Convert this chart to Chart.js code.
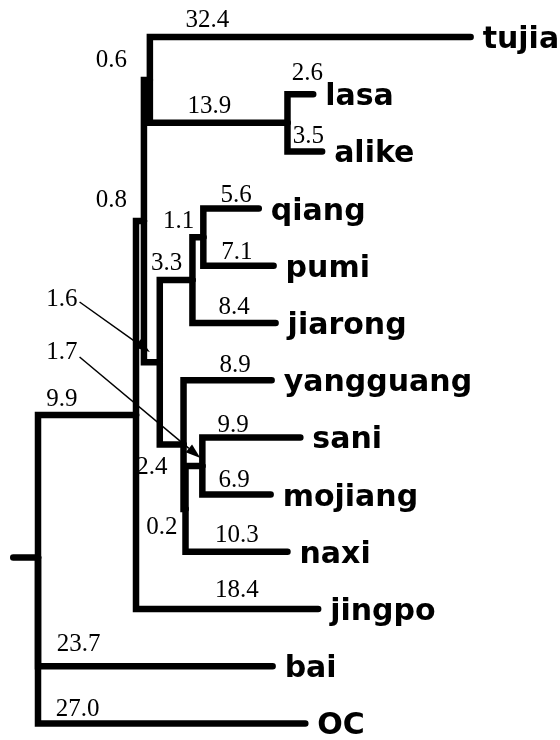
<!DOCTYPE html>
<html>
<head>
<meta charset="utf-8">
<script src="https://cdn.jsdelivr.net/npm/chart.js@4.4.1/dist/chart.umd.min.js"></script>
<style>
  html, body { margin: 0; padding: 0; background: #fff; }
  #tree { display: block; }
</style>
</head>
<body>
<canvas id="tree" width="560" height="740"></canvas>
<script>
// tree as node / parent / branch length (parents listed before children)
const nodeNames = ['root', 'A', 'bai', 'OC', 'B', 'jingpo', 'C', 'D', 'tujia', 'L', 'lasa', 'alike',
    'E', 'F', 'I', 'jiarong', 'qiang', 'pumi', 'yangguang', 'H', 'G', 'naxi', 'sani', 'mojiang'];
const parentNames = [null, 'root', 'root', 'root', 'A', 'A', 'B', 'B', 'C', 'C', 'L', 'L',
    'D', 'D', 'E', 'E', 'I', 'I', 'F', 'F', 'H', 'H', 'G', 'G'];
const branchLengths = [0, 9.9, 23.7, 27.0, 0.8, 18.4, 0.6, 1.6, 32.4, 13.9, 2.6, 3.5,
    3.3, 2.4, 1.1, 8.4, 5.6, 7.1, 8.9, 0.2, 1.7, 10.3, 9.9, 6.9];

// leaves from top to bottom
const leafOrder = ['tujia', 'lasa', 'alike', 'qiang', 'pumi', 'jiarong', 'yangguang',
    'sani', 'mojiang', 'naxi', 'jingpo', 'bai', 'OC'];

const rootRow = 9.1;
const rootStub = -2.5;

// where the branch length numbers sit: [x in length units, row]
const labelSpots = {
    tujia: [17.1, -0.175], C: [7.4, 0.524], L: [17.3, 1.329], lasa: [27.2, 0.752],
    alike: [27.3, 1.853], B: [7.4, 2.972], I: [14.2, 3.339], qiang: [20.0, 2.885],
    pumi: [20.1, 3.881], E: [13.0, 4.073], jiarong: [19.8, 4.843], D: [2.4, 4.703],
    G: [2.4, 5.629], yangguang: [19.9, 5.857], A: [2.4, 6.451], sani: [19.7, 6.906],
    F: [11.5, 7.640], mojiang: [19.8, 7.867], H: [12.5, 8.689], naxi: [20.1, 8.829],
    jingpo: [20.1, 9.790], bai: [4.1, 10.734], OC: [4.0, 11.871]
};
// pointer arrows for the two crowded labels
const arrows = [
    { from: [4.2, 4.633], to: [11.3, 5.507] },
    { from: [4.2, 5.594], to: [16.4, 7.36] }
];

// node positions
const xPos = {};
const yPos = {};
nodeNames.forEach((n, i) => {
    const p = parentNames[i];
    xPos[n] = p === null ? 0 : xPos[p] + branchLengths[i];
});
leafOrder.forEach((n, i) => { yPos[n] = i; });
for (let i = nodeNames.length - 1; i >= 0; i--) {
    const n = nodeNames[i];
    if (yPos[n] !== undefined) continue;
    const kids = nodeNames.filter((c, j) => parentNames[j] === n).map(c => yPos[c]);
    yPos[n] = (Math.min(...kids) + Math.max(...kids)) / 2;
}
yPos.root = rootRow;

const lineStyle = {
    showLine: true,
    borderColor: '#000',
    borderWidth: 6.5,
    borderCapStyle: 'round',
    borderJoinStyle: 'miter',
    pointRadius: 0,
    tension: 0,
    clip: false
};

const datasets = [{
    ...lineStyle,
    data: [{ x: rootStub, y: rootRow }, { x: 0, y: rootRow }]
}];
nodeNames.forEach((n, i) => {
    const p = parentNames[i];
    if (p === null) return;
    datasets.push({
        ...lineStyle,
        data: [
            { x: xPos[p], y: yPos[p] },
            { x: xPos[p], y: yPos[n] },
            { x: xPos[n], y: yPos[n] }
        ]
    });
});

const treeText = {
    id: 'treeText',
    afterDatasetsDraw(chart) {
        const ctx = chart.ctx;
        const sx = chart.scales.x;
        const sy = chart.scales.y;
        ctx.save();
        ctx.fillStyle = '#000';
        ctx.strokeStyle = '#000';

        // leaf names
        ctx.font = 'bold 30px "DejaVu Sans"';
        ctx.textAlign = 'left';
        ctx.textBaseline = 'alphabetic';
        leafOrder.forEach(n => {
            ctx.fillText(n, sx.getPixelForValue(xPos[n]) + 12, sy.getPixelForValue(yPos[n]) + 11);
        });

        // branch lengths
        ctx.font = '25px "Liberation Serif"';
        ctx.textAlign = 'center';
        nodeNames.forEach((n, i) => {
            const spot = labelSpots[n];
            if (!spot) return;
            ctx.fillText(branchLengths[i].toFixed(1), sx.getPixelForValue(spot[0]), sy.getPixelForValue(spot[1]));
        });

        // arrows
        ctx.lineWidth = 1.5;
        arrows.forEach(a => {
            const x0 = sx.getPixelForValue(a.from[0]);
            const y0 = sy.getPixelForValue(a.from[1]);
            const x1 = sx.getPixelForValue(a.to[0]);
            const y1 = sy.getPixelForValue(a.to[1]);
            const ang = Math.atan2(y1 - y0, x1 - x0);
            const len = 15;
            const hw = 5;
            const bx = x1 - len * Math.cos(ang);
            const by = y1 - len * Math.sin(ang);
            ctx.beginPath();
            ctx.moveTo(x0, y0);
            ctx.lineTo(bx, by);
            ctx.stroke();
            ctx.beginPath();
            ctx.moveTo(x1, y1);
            ctx.lineTo(bx + hw * Math.sin(ang), by - hw * Math.cos(ang));
            ctx.lineTo(bx - hw * Math.sin(ang), by + hw * Math.cos(ang));
            ctx.closePath();
            ctx.fill();
        });
        ctx.restore();
    }
};

new Chart(document.getElementById('tree'), {
    type: 'scatter',
    data: { datasets: datasets },
    options: {
        responsive: false,
        animation: false,
        layout: { padding: 0 },
        plugins: {
            legend: { display: false },
            tooltip: { enabled: false }
        },
        scales: {
            x: { type: 'linear', display: false, min: -38 / 9.9, max: 522 / 9.9 },
            y: { type: 'linear', display: false, reverse: true, min: -37 / 57.2, max: 703 / 57.2 }
        }
    },
    plugins: [treeText]
});
</script>
</body>
</html>
